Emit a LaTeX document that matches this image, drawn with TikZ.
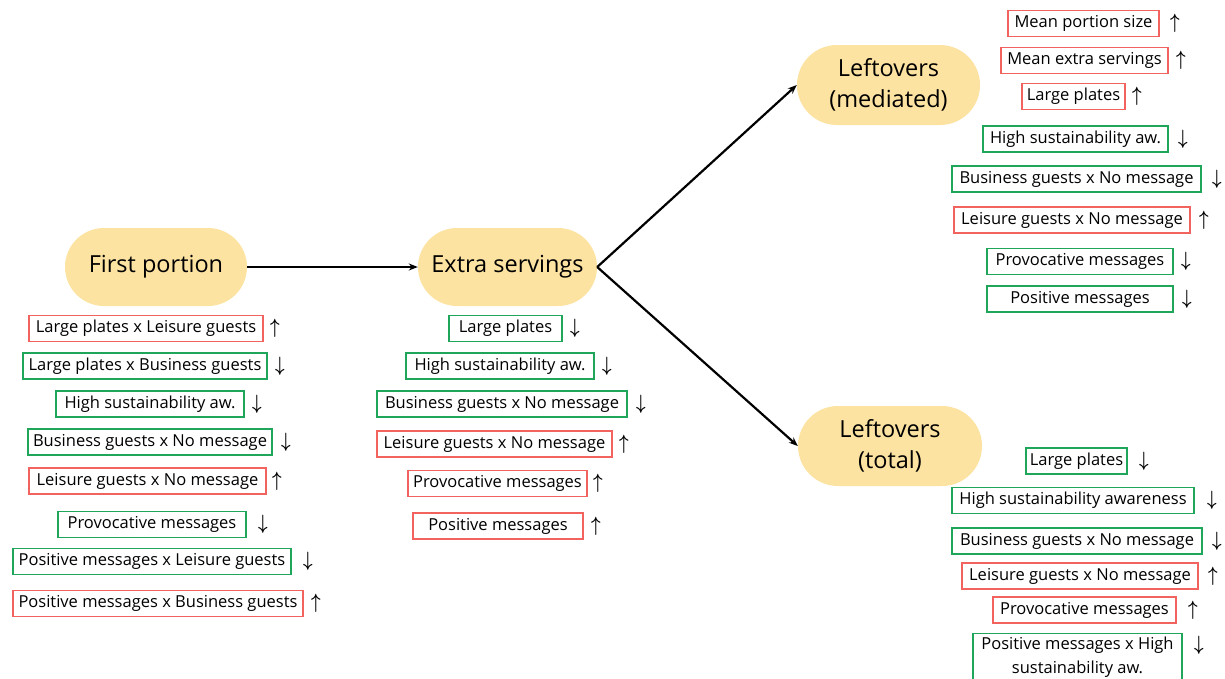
\documentclass[tikz,border=0pt]{standalone}
\usepackage{fontspec}
\setmainfont{Open Sans}
\usetikzlibrary{arrows.meta}
\definecolor{PillYellow}{HTML}{FCE3A2}
\definecolor{BoxRed}{HTML}{F2625F}
\definecolor{BoxGreen}{HTML}{1FA65B}
\newcommand{\up}{\scalebox{0.8}[1]{$\uparrow$}}
\newcommand{\down}{\scalebox{0.8}[1]{$\downarrow$}}
\tikzset{
    % Outcome stages - yellow pills
    stage/.style={
        rectangle,
        fill=PillYellow,
        rounded corners=39pt,
        minimum width=182pt,
        minimum height=78pt,
        align=center,
        font=\fontsize{23.5}{31}\selectfont
    },
    % Factor boxes
    factor/.style={
        rectangle,
        line width=1.4pt,
        minimum height=26pt,
        inner xsep=0pt,
        inner ysep=0pt,
        text height=12.5pt,
        text depth=4pt,
        font=\fontsize{16.5}{24}\selectfont
    },
    upbox/.style={factor, draw=BoxRed},
    downbox/.style={factor, draw=BoxGreen},
    % Effect direction marks
    trend/.style={
        inner sep=0pt,
        font=\fontsize{22}{22}\selectfont\boldmath
    },
    % Arrow style
    arrow/.style={
        -{Stealth[length=9pt,width=7pt]},
        line width=2.2pt,
        draw=black
    }
}

\begin{document}
\begin{tikzpicture}[x=1pt, y=-1pt]
    \useasboundingbox (0,0) rectangle (1225,678);

    \node[stage] (fp) at (156,267) {First portion};
    \node[stage, minimum width=179pt] (es) at (507.5,267) {Extra servings};
    \node[stage, minimum width=183pt, minimum height=80pt, rounded corners=40pt] (lm) at (888.5,85) {Leftovers\\(mediated)};
    \node[stage, minimum width=184pt, minimum height=80pt, rounded corners=40pt] (lt) at (890,446) {Leftovers\\(total)};

    \draw[arrow] (fp.east) -- (es.west);
    \draw[arrow] (es.east) -- (lm.west);
    \draw[arrow] (es.east) -- (lt.west);

    % First portion
    \node[upbox, minimum width=234pt] (f1) at (146,328.5) {Large plates x Leisure guests};
    \node[downbox, minimum width=244pt] (f2) at (145,366) {Large plates x Business guests};
    \node[downbox, minimum width=188pt] (f3) at (150,404) {High sustainability aw.};
    \node[downbox, minimum width=244pt] (f4) at (150,442) {Business guests x No message};
    \node[upbox, minimum width=237pt] (f5) at (147.5,481) {Leisure guests x No message};
    \node[downbox, minimum width=188pt] (f6) at (152,524.5) {Provocative messages};
    \node[downbox, minimum width=278pt] (f7) at (152,561.5) {Positive messages x Leisure guests};
    \node[upbox, minimum width=290pt] (f8) at (158,603.5) {Positive messages x Business guests};
    \node[trend] (f1t) at (275,328.5) {\up};
    \node[trend] (f2t) at (280,366) {\down};
    \node[trend] (f3t) at (257,404) {\down};
    \node[trend] (f4t) at (286,442) {\down};
    \node[trend] (f5t) at (277,481) {\up};
    \node[trend] (f6t) at (263,524.5) {\down};
    \node[trend] (f7t) at (308,561.5) {\down};
    \node[trend] (f8t) at (316,603.5) {\up};

    % Extra servings
    \node[downbox, minimum width=113pt] (e1) at (505.5,328.5) {Large plates};
    \node[downbox, minimum width=188pt] (e2) at (500,366) {High sustainability aw.};
    \node[downbox, minimum width=250pt] (e3) at (502,404) {Business guests x No message};
    \node[upbox, minimum width=235pt] (e4) at (494.5,444) {Leisure guests x No message};
    \node[upbox, minimum width=179pt] (e5) at (497.5,483.5) {Provocative messages};
    \node[upbox, minimum width=170pt] (e6) at (498,526) {Positive messages};
    \node[trend] (e1t) at (575,328.5) {\down};
    \node[trend] (e2t) at (607,366) {\down};
    \node[trend] (e3t) at (641,404) {\down};
    \node[trend] (e4t) at (624,444) {\up};
    \node[trend] (e5t) at (598,483.5) {\up};
    \node[trend] (e6t) at (596,526) {\up};

    % Leftovers (mediated)
    \node[upbox, minimum width=151pt] (m1) at (1083.5,23.5) {Mean portion size};
    \node[upbox, minimum width=167pt] (m2) at (1084.5,60.5) {Mean extra servings};
    \node[upbox, minimum width=103pt] (m3) at (1073.5,96.5) {Large plates};
    \node[downbox, minimum width=185pt] (m4) at (1075.5,139) {High sustainability aw.};
    \node[downbox, minimum width=249pt] (m5) at (1076.5,179) {Business guests x No message};
    \node[upbox, minimum width=236pt] (m6) at (1072,220) {Leisure guests x No message};
    \node[downbox, minimum width=186pt] (m7) at (1080,261.5) {Provocative messages};
    \node[downbox, minimum width=186pt] (m8) at (1080,299) {Positive messages};
    \node[trend] (m1t) at (1175,23.5) {\up};
    \node[trend] (m2t) at (1181,60.5) {\up};
    \node[trend] (m3t) at (1137,96.5) {\up};
    \node[trend] (m4t) at (1183,139) {\down};
    \node[trend] (m5t) at (1217,179) {\down};
    \node[trend] (m6t) at (1204,220) {\up};
    \node[trend] (m7t) at (1186,261.5) {\down};
    \node[trend] (m8t) at (1187,299) {\down};

    % Leftovers (total)
    \node[downbox, minimum width=101pt] (t1) at (1076.5,461) {Large plates};
    \node[downbox, minimum width=242pt] (t2) at (1073,500.5) {High sustainability awareness};
    \node[downbox, minimum width=250pt] (t3) at (1077,541) {Business guests x No message};
    \node[upbox, minimum width=236pt] (t4) at (1080,576) {Leisure guests x No message};
    \node[upbox, minimum width=183pt] (t5) at (1084.5,610) {Provocative messages};
    \node[downbox, minimum width=209pt, anchor=north, align=center, text height=, text depth=, inner ysep=3pt] (t6) at (1077.5,633) {Positive messages x High\\sustainability aw.};
    \node[trend] (t1t) at (1144,461) {\down};
    \node[trend] (t2t) at (1212,500.5) {\down};
    \node[trend] (t3t) at (1217,541) {\down};
    \node[trend] (t4t) at (1213,576) {\up};
    \node[trend] (t5t) at (1193,610) {\up};
    \node[trend] (t6t) at (1199,645) {\down};
\end{tikzpicture}
\end{document}
